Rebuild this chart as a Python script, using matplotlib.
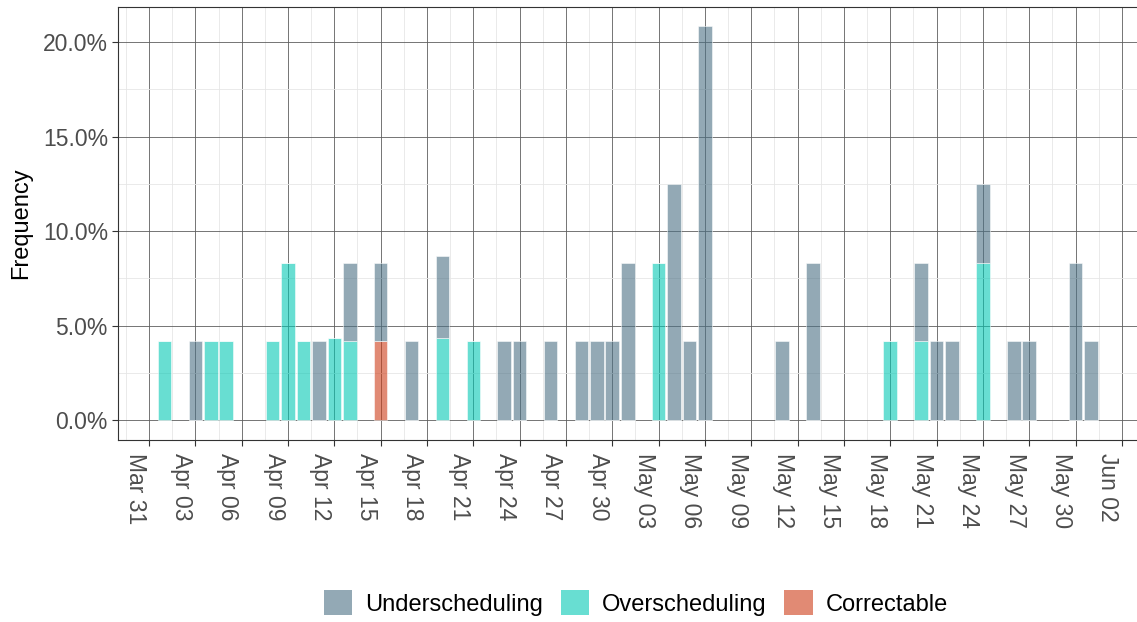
import datetime as dt
import matplotlib
matplotlib.use("Agg")
import matplotlib.pyplot as plt
import matplotlib.dates as mdates
from matplotlib.patches import Patch
from matplotlib.ticker import FuncFormatter, MultipleLocator
import matplotlib.transforms as mtransforms
import numpy as np

# -- data (percent of schedules per day)
dates = ["2020-04-01", "2020-04-03", "2020-04-04", "2020-04-05", "2020-04-08",
         "2020-04-09", "2020-04-10", "2020-04-11", "2020-04-12", "2020-04-13",
         "2020-04-15", "2020-04-17", "2020-04-19", "2020-04-21", "2020-04-23",
         "2020-04-24", "2020-04-26", "2020-04-28", "2020-04-29", "2020-04-30",
         "2020-05-01", "2020-05-03", "2020-05-04", "2020-05-05", "2020-05-06",
         "2020-05-11", "2020-05-13", "2020-05-18", "2020-05-20", "2020-05-21",
         "2020-05-22", "2020-05-24", "2020-05-26", "2020-05-27", "2020-05-30",
         "2020-05-31"]
under = [0, 4.17, 0, 0, 0,
         0, 0, 4.17, 0, 4.17,
         4.17, 4.17, 4.35, 0, 4.17,
         4.17, 4.17, 4.17, 4.17, 4.17,
         8.33, 0, 12.5, 4.17, 20.83,
         4.17, 8.33, 0, 4.17, 4.17,
         4.17, 4.17, 4.17, 4.17, 8.33,
         4.17]
over = [4.17, 0, 4.17, 4.17, 4.17,
        8.33, 4.17, 0, 4.35, 4.17,
        0, 0, 4.35, 4.17, 0,
        0, 0, 0, 0, 0,
        0, 8.33, 0, 0, 0,
        0, 0, 4.17, 4.17, 0,
        0, 8.33, 0, 0, 0,
        0]
correct = [0, 0, 0, 0, 0,
           0, 0, 0, 0, 0,
           4.17, 0, 0, 0, 0,
           0, 0, 0, 0, 0,
           0, 0, 0, 0, 0,
           0, 0, 0, 0, 0,
           0, 0, 0, 0, 0,
           0]
labels = ["Underscheduling", "Overscheduling", "Correctable"]
colors = ["#4b7084", "#03c8b4", "#cd3c17"]

plt.rcParams["font.family"] = ["Liberation Sans", "DejaVu Sans"]

W, H = 1137, 622
fig = plt.figure(figsize=(W / 100, H / 100), dpi=100)
ax = fig.add_axes([118.3 / W, 1 - 440 / H, (1145 - 118.3) / W, (440 - 6.7) / H])

x = mdates.date2num([dt.datetime.strptime(d, "%Y-%m-%d") for d in dates])
under = np.array(under); over = np.array(over); correct = np.array(correct)

# -- stacked bars: correctable at the bottom, underscheduling on top
kw = dict(width=0.88, alpha=0.6, edgecolor="white", linewidth=0.6, zorder=3)
ax.bar(x, correct, color=colors[2], **kw)
ax.bar(x, over, bottom=correct, color=colors[1], **kw)
ax.bar(x, under, bottom=correct + over, color=colors[0], **kw)

# -- axes
x0 = mdates.date2num(dt.datetime(2020, 3, 31))
ax.set_xlim(x0 - 1.99, x0 + 64)
ax.set_ylim(-1.04, 21.87)
ticks = [x0 + 3 * i for i in range(22)]
ax.set_xticks(ticks)
ax.set_xticks([t + 1.5 for t in ticks] + [ticks[0] - 1.5], minor=True)
ax.xaxis.set_major_formatter(mdates.DateFormatter("%b %d"))
ax.yaxis.set_major_locator(MultipleLocator(5))
ax.yaxis.set_minor_locator(MultipleLocator(2.5))
ax.yaxis.set_major_formatter(FuncFormatter(lambda v, p: "{0:.1f}%".format(v)))

ax.grid(which="major", color="#5e5e5e", linewidth=0.6, zorder=0)
ax.grid(which="minor", color="#e6e6e6", linewidth=0.6, zorder=0)
ax.set_axisbelow(True)
for s in ax.spines.values():
    s.set_color("#333333")
    s.set_linewidth(0.8)

ax.tick_params(which="major", length=4.5, width=0.8, color="#333333",
               labelsize=16.5, labelcolor="#4d4d4d", pad=3)
ax.tick_params(which="minor", length=0)
off = mtransforms.ScaledTranslation(-2.5 / 100, -3 / 100, fig.dpi_scale_trans)
for lab in ax.get_xticklabels():
    lab.set_rotation(-90)
    lab.set_rotation_mode("anchor")
    lab.set_ha("left")
    lab.set_va("top")
    lab.set_transform(lab.get_transform() + off)

ax.set_ylabel("Frequency", fontsize=17, color="black")
ax.yaxis.set_label_coords(32 / W, 1 - 223.4 / H, transform=fig.transFigure)

# -- legend
handles = [Patch(facecolor=c, alpha=0.6, edgecolor="none") for c in colors]
fig.legend(handles, labels, loc="center", bbox_to_anchor=(636 / W, 1 - 603 / H),
           ncol=3, frameon=False, fontsize=17, handlelength=1.2,
           handleheight=1.2, handletextpad=0.55, columnspacing=0.75,
           borderaxespad=0)

fig.savefig("out.png", dpi=100)
